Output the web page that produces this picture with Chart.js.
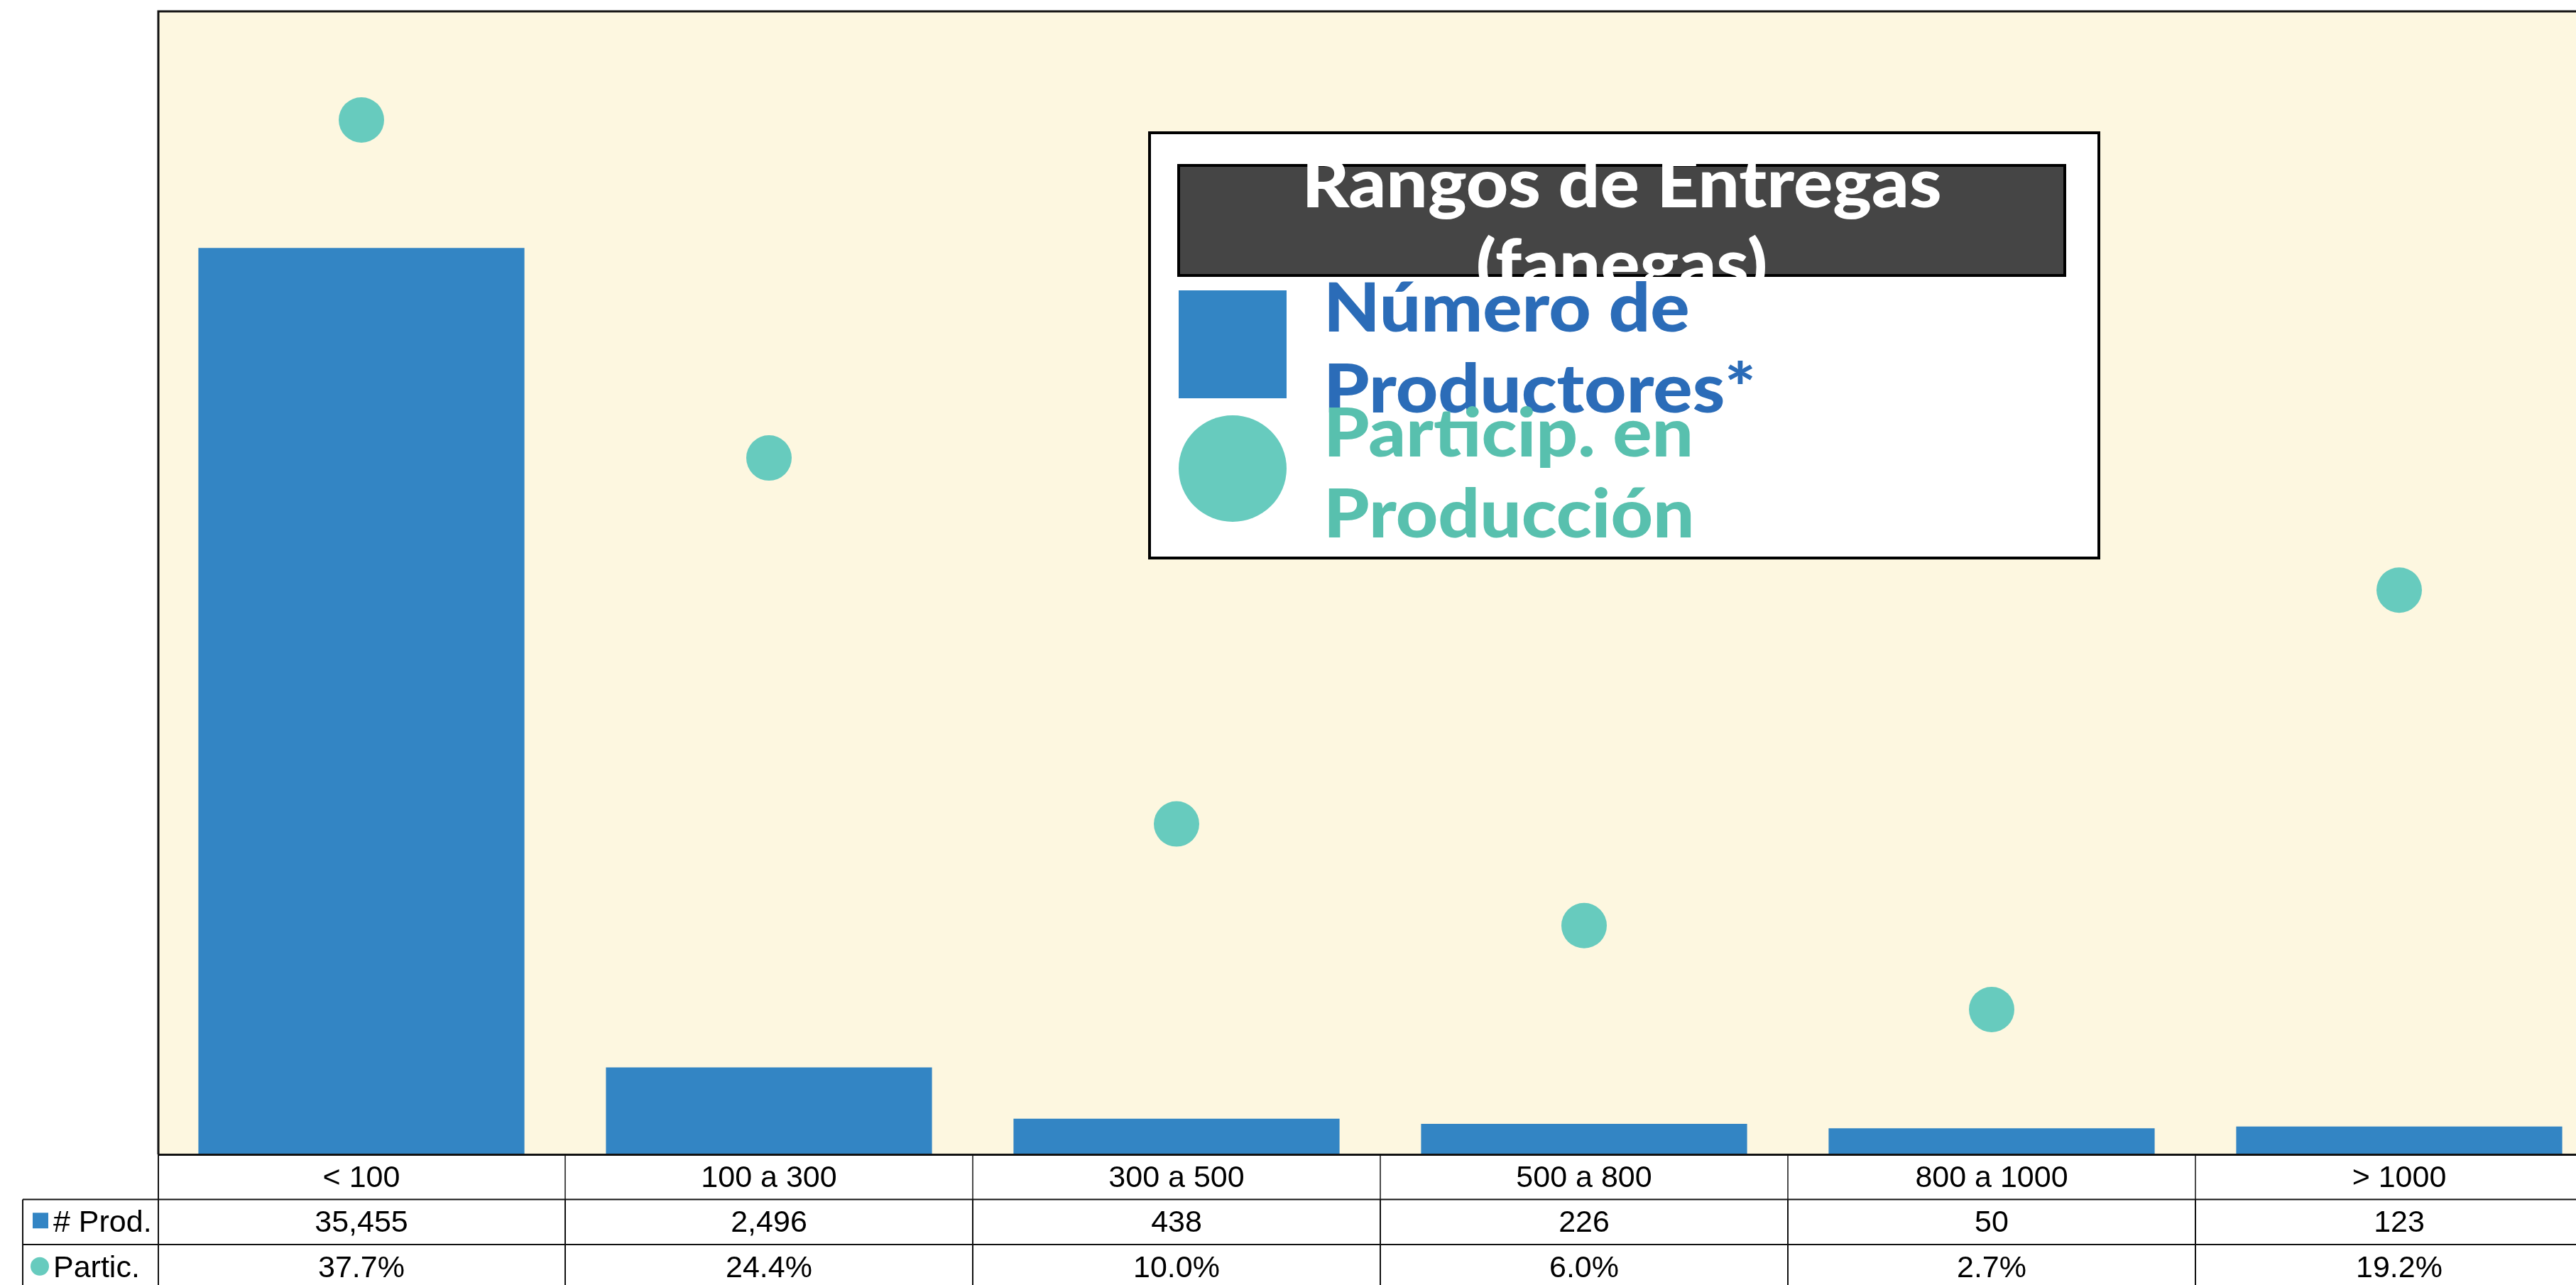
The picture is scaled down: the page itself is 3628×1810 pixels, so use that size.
<!DOCTYPE html>
<html>
<head>
<meta charset="utf-8">
<script src="https://cdn.jsdelivr.net/npm/chart.js@4.4.0/dist/chart.umd.min.js"></script>
<style>
html,body{margin:0;padding:0;background:#ffffff;overflow:hidden;width:3628px;height:1810px}
canvas{display:block}
</style>
</head>
<body>
<canvas id="c" width="3700" height="1810"></canvas>
<script>
// ---- data ----
const categories = ['< 100', '100 a 300', '300 a 500', '500 a 800', '800 a 1000', '> 1000'];
const productores = [35455, 2496, 438, 226, 50, 123];
const participacion = [37.7, 24.4, 10.0, 6.0, 2.7, 19.2];
const seriesLabels = ['Número de Productores*', 'Particip. en Producción'];
const tableRowLabels = ['# Prod.', 'Partic.'];
const legendTitle = 'Rangos de Entregas (fanegas)';
const prodRange = [-1000, 45000];
const partRange = [-3, 42];

// ---- style ----
const C = {
  bar: '#3385C4', dot: '#67CBBE', bg: '#FDF7E0',
  blueText: '#2B6CB8', tealText: '#58C0AE', titleBg: '#454545'
};
const TABLE_FONT = '43px "Liberation Sans", Arial, sans-serif';
const LEG_FONT = '900 96px Lato, "Noto Sans", sans-serif';
const LEG_STRETCH = 1.075;

function wrap(ctx, text, maxW) {
  const words = text.split(' ');
  const lines = []; let cur = '';
  for (const w of words) {
    const t = cur ? cur + ' ' + w : w;
    if (cur && ctx.measureText(t).width > maxW) { lines.push(cur); cur = w; }
    else cur = t;
  }
  if (cur) lines.push(cur);
  return lines;
}
function stretchText(ctx, text, x, y, align) {
  const w = ctx.measureText(text).width * LEG_STRETCH;
  const x0 = align === 'center' ? x - w / 2 : x;
  ctx.save();
  ctx.textAlign = 'left';
  ctx.translate(x0, y);
  ctx.scale(LEG_STRETCH, 1);
  ctx.fillText(text, 0, 0);
  ctx.restore();
}

const bgPlugin = {
  id: 'bgFrame',
  beforeDatasetsDraw(chart) {
    const { ctx, chartArea: a } = chart;
    ctx.save();
    ctx.fillStyle = C.bg;
    ctx.fillRect(a.left, a.top, a.right - a.left, a.bottom - a.top);
    ctx.restore();
  },
  afterDatasetsDraw(chart) {
    const { ctx, chartArea: a } = chart;
    ctx.save();
    ctx.strokeStyle = '#111';
    ctx.lineWidth = 3;
    ctx.beginPath();
    ctx.moveTo(a.left + 1, a.bottom); ctx.lineTo(a.left + 1, a.top + 1);
    ctx.lineTo(a.right, a.top + 1);
    ctx.moveTo(a.left, a.bottom + 0.5); ctx.lineTo(a.right, a.bottom + 0.5);
    ctx.stroke();
    ctx.restore();
  }
};

const tablePlugin = {
  id: 'dataTable',
  afterDraw(chart) {
    const { ctx, chartArea: a, scales: { x } } = chart;
    const colW = x.getPixelForTick(1) - x.getPixelForTick(0);
    const rowH = 63.5;
    const top = a.bottom;
    const labelLeft = 32;
    const H = chart.height;
    ctx.save();
    ctx.fillStyle = '#ffffff';
    ctx.fillRect(a.left, top + 2, a.right - a.left, H - top);
    ctx.fillRect(labelLeft, top + rowH, a.left - labelLeft, H - top - rowH);
    ctx.strokeStyle = '#111';
    ctx.lineWidth = 2;
    ctx.beginPath();
    for (let r = 1; r <= 2; r++) {
      const y = top + r * rowH;
      ctx.moveTo(labelLeft, y); ctx.lineTo(a.right, y);
    }
    ctx.moveTo(labelLeft, top + rowH); ctx.lineTo(labelLeft, H);
    ctx.moveTo(a.left + 1, top); ctx.lineTo(a.left + 1, H);
    ctx.stroke();
    categories.forEach((c, i) => {
      const xr = x.getPixelForTick(i) + colW / 2;
      ctx.beginPath();
      ctx.lineWidth = 1.5;
      ctx.moveTo(xr, top); ctx.lineTo(xr, top + rowH);
      ctx.stroke();
      ctx.beginPath();
      ctx.lineWidth = 2;
      ctx.moveTo(xr, top + rowH); ctx.lineTo(xr, H);
      ctx.stroke();
    });
    ctx.fillStyle = '#000';
    ctx.font = TABLE_FONT;
    ctx.textAlign = 'center';
    ctx.textBaseline = 'middle';
    const rows = [
      categories,
      productores.map(v => v.toLocaleString('en-US')),
      participacion.map(v => v.toFixed(1) + '%')
    ];
    rows.forEach((row, r) => {
      const yc = top + r * rowH + rowH / 2 + 2;
      row.forEach((t, i) => ctx.fillText(t, x.getPixelForTick(i), yc));
    });
    ctx.textAlign = 'left';
    const y1 = top + rowH + rowH / 2;
    ctx.fillStyle = C.bar;
    ctx.fillRect(46, y1 - 13, 22, 22);
    ctx.fillStyle = '#000';
    ctx.fillText(tableRowLabels[0], 75, y1 + 2);
    const y2 = top + 2 * rowH + rowH / 2;
    ctx.fillStyle = C.dot;
    ctx.beginPath(); ctx.arc(56, y2 - 1, 13, 0, Math.PI * 2); ctx.fill();
    ctx.fillStyle = '#000';
    ctx.fillText(tableRowLabels[1], 75, y2 + 2);
    ctx.restore();
  }
};

const legendPlugin = {
  id: 'boxLegend',
  afterDraw(chart) {
    const ctx = chart.ctx;
    const box = { l: 1619, t: 187, r: 2956, b: 786 };
    const tb = { l: 1660, t: 233, r: 2908, b: 388 };
    ctx.save();
    ctx.fillStyle = '#ffffff';
    ctx.fillRect(box.l, box.t, box.r - box.l, box.b - box.t);
    ctx.strokeStyle = '#000';
    ctx.lineWidth = 4;
    ctx.strokeRect(box.l, box.t, box.r - box.l, box.b - box.t);
    ctx.fillStyle = C.titleBg;
    ctx.fillRect(tb.l, tb.t, tb.r - tb.l, tb.b - tb.t);
    ctx.lineWidth = 4;
    ctx.strokeRect(tb.l, tb.t, tb.r - tb.l, tb.b - tb.t);
    ctx.font = LEG_FONT;
    ctx.textBaseline = 'alphabetic';
    ctx.fillStyle = '#ffffff';
    const tl = wrap(ctx, legendTitle, 1050);
    tl.forEach((line, i) => stretchText(ctx, line, (tb.l + tb.r) / 2, 292 + i * 114, 'center'));
    const ds = chart.data.datasets;
    ctx.fillStyle = ds[0].backgroundColor;
    ctx.fillRect(1660, 409, 152, 152);
    ctx.fillStyle = C.blueText;
    wrap(ctx, ds[0].label, 640).forEach((line, i) => stretchText(ctx, line, 1864, 467 + i * 114, 'left'));
    ctx.fillStyle = ds[1].pointBackgroundColor;
    ctx.beginPath(); ctx.ellipse(1736, 660, 76, 75, 0, 0, Math.PI * 2); ctx.fill();
    ctx.fillStyle = C.tealText;
    wrap(ctx, ds[1].label, 640).forEach((line, i) => stretchText(ctx, line, 1864, 643 + i * 114, 'left'));
    ctx.restore();
  }
};

new Chart(document.getElementById('c'), {
  type: 'bar',
  data: {
    labels: categories,
    datasets: [
      {
        type: 'bar', label: seriesLabels[0], data: productores, yAxisID: 'y',
        backgroundColor: C.bar, borderWidth: 0, base: prodRange[0],
        barPercentage: 0.8, categoryPercentage: 1.0, order: 2
      },
      {
        type: 'line', label: seriesLabels[1], data: participacion, yAxisID: 'y2',
        showLine: false, pointRadius: 32, pointHoverRadius: 32, pointBorderWidth: 0,
        pointBackgroundColor: C.dot, backgroundColor: C.dot, borderColor: C.dot, order: 1
      }
    ]
  },
  options: {
    responsive: false,
    animation: false,
    devicePixelRatio: 1,
    layout: { autoPadding: false, padding: { left: 222, right: 34, top: 15, bottom: 184 } },
    plugins: { legend: { display: false }, tooltip: { enabled: false }, title: { display: false } },
    scales: {
      x: { display: false, offset: true, grid: { display: false } },
      y: { display: false, min: prodRange[0], max: prodRange[1] },
      y2: { display: false, position: 'right', min: partRange[0], max: partRange[1] }
    }
  },
  plugins: [bgPlugin, legendPlugin, tablePlugin]
});
</script>
</body>
</html>
